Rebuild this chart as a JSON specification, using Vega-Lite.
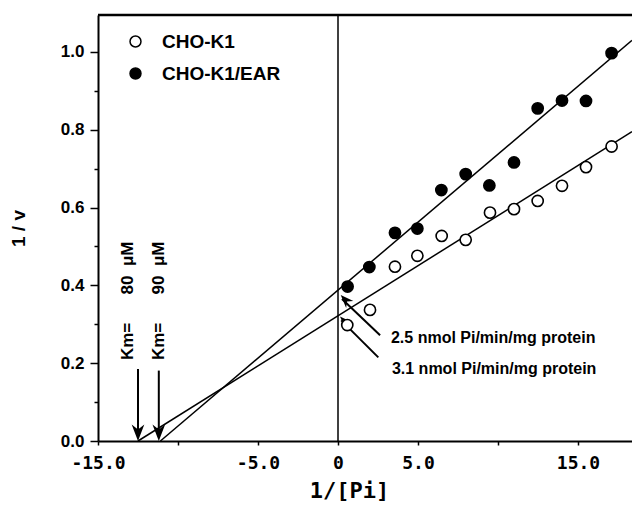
{
  "$schema": "https://vega.github.io/schema/vega-lite/v6.json",
  "width": 534,
  "height": 426,
  "autosize": {"type": "none"},
  "padding": {"left": 98, "top": 15, "right": 0, "bottom": 67},
  "background": "white",
  "config": {"view": {"stroke": null}, "font": "Liberation Sans"},
  "datasets": {
    "points": [
      {"series": "CHO-K1", "x": 0.58, "y": 0.298},
      {"series": "CHO-K1", "x": 2.0, "y": 0.337},
      {"series": "CHO-K1", "x": 3.56, "y": 0.448},
      {"series": "CHO-K1", "x": 4.96, "y": 0.476},
      {"series": "CHO-K1", "x": 6.48, "y": 0.527},
      {"series": "CHO-K1", "x": 7.98, "y": 0.517},
      {"series": "CHO-K1", "x": 9.5, "y": 0.587},
      {"series": "CHO-K1", "x": 11.0, "y": 0.596},
      {"series": "CHO-K1", "x": 12.48, "y": 0.617},
      {"series": "CHO-K1", "x": 14.0, "y": 0.656},
      {"series": "CHO-K1", "x": 15.5, "y": 0.704},
      {"series": "CHO-K1", "x": 17.1, "y": 0.757},
      {"series": "CHO-K1/EAR", "x": 0.6, "y": 0.397},
      {"series": "CHO-K1/EAR", "x": 1.96, "y": 0.447},
      {"series": "CHO-K1/EAR", "x": 3.56, "y": 0.535},
      {"series": "CHO-K1/EAR", "x": 4.96, "y": 0.546},
      {"series": "CHO-K1/EAR", "x": 6.46, "y": 0.645},
      {"series": "CHO-K1/EAR", "x": 7.98, "y": 0.686},
      {"series": "CHO-K1/EAR", "x": 9.46, "y": 0.657},
      {"series": "CHO-K1/EAR", "x": 11.0, "y": 0.716},
      {"series": "CHO-K1/EAR", "x": 12.48, "y": 0.855},
      {"series": "CHO-K1/EAR", "x": 14.0, "y": 0.875},
      {"series": "CHO-K1/EAR", "x": 15.5, "y": 0.874},
      {"series": "CHO-K1/EAR", "x": 17.1, "y": 0.997}
    ],
    "fits": [
      {"series": "CHO-K1", "x": -12.5, "y": 0},
      {"series": "CHO-K1", "x": 18.375, "y": 0.795},
      {"series": "CHO-K1/EAR", "x": -11.1, "y": 0},
      {"series": "CHO-K1/EAR", "x": 18.375, "y": 1.03}
    ],
    "arrows": [
      {"kind": "km", "x": -12.5, "y": 0.185, "x2": -12.5, "y2": 0.01},
      {"kind": "km", "x": -11.2, "y": 0.181, "x2": -11.2, "y2": 0.01},
      {"kind": "vmax", "x": 2.63, "y": 0.272, "x2": 0.25, "y2": 0.365},
      {"kind": "vmax", "x": 2.52, "y": 0.215, "x2": 0.2, "y2": 0.31}
    ],
    "heads": [
      {"kind": "km", "x": -12.5, "y": 0},
      {"kind": "km", "x": -11.2, "y": 0},
      {"kind": "vmax", "x": 0.17, "y": 0.375},
      {"kind": "vmax", "x": 0.125, "y": 0.32}
    ],
    "notes": [
      {"text": "2.5 nmol Pi/min/mg protein", "x": 3.31, "y": 0.265},
      {"text": "3.1 nmol Pi/min/mg protein", "x": 3.37, "y": 0.185}
    ],
    "km": [
      {"text": "Km=\u00a0\u00a0\u00a0\u00a0\u00a0\u00a080\u00a0\u00a0μM", "x": -13.1, "y": 0.208},
      {"text": "Km=\u00a0\u00a0\u00a0\u00a0\u00a0\u00a090\u00a0\u00a0μM", "x": -11.19, "y": 0.208}
    ],
    "vline": [{"x": 0}],
    "hline": [{"y": 1.095}]
  },
  "layer": [
    {
      "data": {"name": "fits"},
      "mark": {"type": "line", "color": "black", "strokeWidth": 1.5},
      "encoding": {
        "x": {
          "field": "x", "type": "quantitative",
          "scale": {"domain": [-15, 18.375], "nice": false, "zero": false},
          "axis": {
            "values": [-15, -10, -5, 0, 5, 10, 15],
            "labelExpr": "datum.value == 0 ? '0' : (abs(datum.value) == 10 ? '' : (datum.value < 0 ? '-' : '') + format(abs(datum.value), '.1f'))",
            "labelFont": "DejaVu Sans Mono", "labelFontSize": 18, "labelFontWeight": "bold", "labelColor": "black",
            "labelPadding": 9, "labelFlush": false, "labelOverlap": false,
            "tickColor": "black", "tickSize": 4, "tickWidth": 1.5,
            "domainColor": "black", "domainWidth": 2, "grid": false,
            "title": "1/[Pi]", "titleFont": "DejaVu Sans Mono", "titleFontSize": 22, "titleFontWeight": "bold",
            "titleColor": "black", "titlePadding": 8, "titleX": 251
          }
        },
        "y": {
          "field": "y", "type": "quantitative",
          "scale": {"domain": [0, 1.095], "nice": false, "zero": false},
          "axis": {
            "values": [0, 0.1, 0.2, 0.3, 0.4, 0.5, 0.6, 0.7, 0.8, 0.9, 1.0],
            "labelExpr": "round(datum.value * 10) % 2 == 0 ? format(datum.value, '.1f') : ''",
            "labelFont": "Liberation Sans", "labelFontSize": 17, "labelFontWeight": "bold", "labelColor": "black",
            "labelPadding": 6, "labelFlush": false, "labelOverlap": false,
            "tickColor": "black", "tickWidth": 1.5,
            "tickSize": {"condition": {"test": "round(datum.value * 10) % 2 == 0", "value": 8}, "value": 4},
            "domainColor": "black", "domainWidth": 2, "grid": false,
            "title": "1 / v", "titleFont": "Liberation Sans", "titleFontSize": 19, "titleFontWeight": "bold",
            "titleColor": "black", "titlePadding": 32
          }
        },
        "detail": {"field": "series", "type": "nominal"}
      }
    },
    {
      "data": {"name": "vline"},
      "mark": {"type": "rule", "color": "black", "strokeWidth": 1.5},
      "encoding": {"x": {"field": "x", "type": "quantitative"}}
    },
    {
      "data": {"name": "hline"},
      "mark": {"type": "rule", "color": "black", "strokeWidth": 2.5},
      "encoding": {"y": {"field": "y", "type": "quantitative"}}
    },
    {
      "data": {"name": "arrows"},
      "mark": {"type": "rule", "color": "black", "strokeWidth": 2},
      "encoding": {
        "x": {"field": "x", "type": "quantitative"},
        "y": {"field": "y", "type": "quantitative"},
        "x2": {"field": "x2"},
        "y2": {"field": "y2"}
      }
    },
    {
      "data": {"name": "heads"},
      "transform": [{"filter": "datum.kind == 'km'"}],
      "mark": {"type": "point", "shape": "M0,0L-1,-2.6L0,-1.8L1,-2.6Z", "filled": true, "color": "black", "size": 160, "opacity": 1, "angle": 0},
      "encoding": {
        "x": {"field": "x", "type": "quantitative"},
        "y": {"field": "y", "type": "quantitative"}
      }
    },
    {
      "data": {"name": "heads"},
      "transform": [{"filter": "datum.kind == 'vmax'"}],
      "mark": {"type": "point", "shape": "M0,0L-1,-2.6L0,-1.8L1,-2.6Z", "filled": true, "color": "black", "size": 100, "opacity": 1, "angle": 136},
      "encoding": {
        "x": {"field": "x", "type": "quantitative"},
        "y": {"field": "y", "type": "quantitative"}
      }
    },
    {
      "data": {"name": "points"},
      "mark": {"type": "point", "shape": "circle", "filled": true, "size": 125, "stroke": "black", "strokeWidth": 1.6, "opacity": 1},
      "encoding": {
        "x": {"field": "x", "type": "quantitative"},
        "y": {"field": "y", "type": "quantitative"},
        "fill": {
          "field": "series", "type": "nominal",
          "scale": {"domain": ["CHO-K1", "CHO-K1/EAR"], "range": ["white", "black"]},
          "legend": {
            "title": null, "orient": "none", "legendX": 28, "legendY": 17,
            "labelFont": "Liberation Sans", "labelFontSize": 19, "labelFontWeight": "bold", "labelColor": "black",
            "symbolType": "circle", "symbolSize": 120, "symbolStrokeColor": "black", "symbolStrokeWidth": 1.5,
            "labelOffset": 17, "rowPadding": 12, "padding": 0
          }
        }
      }
    },
    {
      "data": {"name": "notes"},
      "mark": {"type": "text", "align": "left", "baseline": "middle", "font": "Liberation Sans", "fontSize": 16, "fontWeight": "bold", "color": "black"},
      "encoding": {
        "x": {"field": "x", "type": "quantitative"},
        "y": {"field": "y", "type": "quantitative"},
        "text": {"field": "text"}
      }
    },
    {
      "data": {"name": "km"},
      "mark": {"type": "text", "align": "left", "baseline": "middle", "angle": 270, "font": "Liberation Sans", "fontSize": 17, "fontWeight": "bold", "color": "black"},
      "encoding": {
        "x": {"field": "x", "type": "quantitative"},
        "y": {"field": "y", "type": "quantitative"},
        "text": {"field": "text"}
      }
    }
  ]
}
